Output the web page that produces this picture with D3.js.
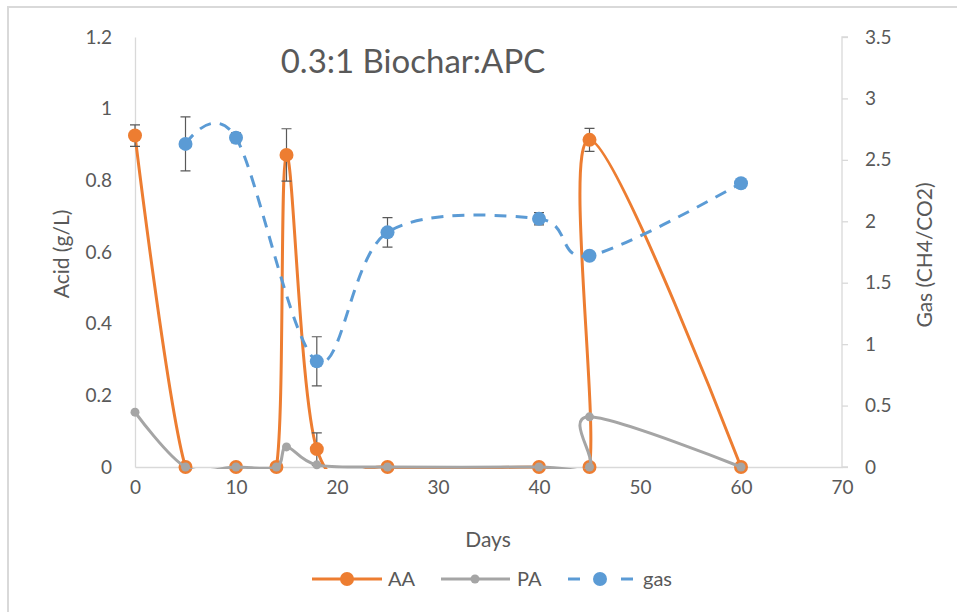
<!DOCTYPE html>
<html><head><meta charset="utf-8">
<script src="https://cdn.jsdelivr.net/npm/d3@7"></script>
<style>body{margin:0;background:#fff}svg{display:block}text{font-family:Lato,"Open Sans",sans-serif;fill:#595959}</style>
</head><body><svg id="c" width="957" height="613"></svg>
<script>
const title = "0.3:1 Biochar:APC";
const aaDays = [0,5,10,14,15,18,25,40,45,45,60];
const aaVals = [0.925,0,0,0,0.871,0.05,0,0,0,0.913,0];
const aaErr  = [0.03,0,0,0,0.073,0.045,0,0,0,0.032,0];
const paDays = [0,5,10,14,15,18,25,40,45,45,60];
const paVals = [0.153,0,0,0,0.056,0.006,0,0,0,0.14,0];
const gasDays = [5,10,18,25,40,45,60];
const gasVals = [2.63,2.68,0.86,1.91,2.02,1.72,2.31];
const gasErr  = [0.22,0.04,0.2,0.12,0.05,0,0];
const xTicks = [0,10,20,30,40,50,60,70];
const yLTicks = [0,0.2,0.4,0.6,0.8,1,1.2];
const yRTicks = [0,0.5,1,1.5,2,2.5,3,3.5];

const svg = d3.select("#c");
const x = d3.scaleLinear().domain([0,70]).range([135,842]);
const yL = d3.scaleLinear().domain([0,1.2]).range([467,37]);
const yR = d3.scaleLinear().domain([0,3.5]).range([467,37]);
const C = {aa:"#ED7D31", pa:"#A5A5A5", gas:"#5B9BD5", axis:"#D9D9D9", err:"#595959"};

svg.append("defs").append("clipPath").attr("id","plot")
  .append("rect").attr("x",135).attr("y",30).attr("width",707).attr("height",439);

// outer border (top & left visible)
svg.append("path").attr("d","M8,612V7H957").attr("fill","none").attr("stroke",C.axis).attr("stroke-width",2);

const fmt = d=>String(+d.toFixed(1));
const gx = svg.append("g").attr("transform","translate(0,467)")
  .call(d3.axisBottom(x).tickValues(xTicks).tickSize(0).tickPadding(14).tickFormat(fmt));
const gl = svg.append("g").attr("transform","translate(135,0)")
  .call(d3.axisLeft(yL).tickValues(yLTicks).tickSize(0).tickPadding(23).tickFormat(fmt));
const gr = svg.append("g").attr("transform","translate(842,0)")
  .call(d3.axisRight(yR).tickValues(yRTicks).tickSize(6).tickPadding(17).tickFormat(fmt));
[gx,gl,gr].forEach(g=>{
  g.select(".domain").attr("stroke",C.axis).attr("stroke-width",1.3);
  g.selectAll(".tick line").attr("stroke",C.axis).attr("stroke-width",1.3);
  g.selectAll(".tick text").attr("font-size",19).attr("fill","#595959").attr("font-family","Lato");
});
gr.select(".domain").attr("d","M6,467H0V37H6");

svg.append("text").attr("x",413).attr("y",73).attr("text-anchor","middle").attr("font-size",33).text(title);
svg.append("text").attr("x",488).attr("y",547).attr("text-anchor","middle").attr("font-size",21).text("Days");
svg.append("text").attr("transform","translate(69,254) rotate(-90)").attr("text-anchor","middle").attr("font-size",21).text("Acid (g/L)");
svg.append("text").attr("transform","translate(932,255) rotate(-90)").attr("text-anchor","middle").attr("font-size",21).text("Gas (CH4/CO2)");

const curve = d3.curveCardinal.tension(0);
function errBars(days, vals, errs, ys){
  const g = svg.append("g").attr("stroke",C.err).attr("stroke-width",1.2).attr("fill","none");
  days.forEach((d,i)=>{
    if(!errs[i]) return;
    const cx = x(d), t = ys(vals[i]+errs[i]), b = ys(Math.max(0,vals[i]-errs[i]));
    g.append("path").attr("d",`M${cx},${t}V${b}M${cx-5},${t}H${cx+5}M${cx-5},${b}H${cx+5}`);
  });
}
function series(days, vals, ys, color, r, dash, errs){
  const pts = days.map((d,i)=>[x(d),ys(vals[i])]);
  const p = svg.append("path").attr("clip-path","url(#plot)")
    .attr("d",d3.line().curve(curve)(pts)).attr("fill","none").attr("stroke",color).attr("stroke-width",3);
  if(dash) p.attr("stroke-dasharray",dash);
  if(errs) errBars(days, vals, errs, ys);
  svg.append("g").selectAll("circle").data(pts).join("circle")
    .attr("cx",d=>d[0]).attr("cy",d=>d[1]).attr("r",r).attr("fill",color);
}
series(aaDays, aaVals, yL, C.aa, 7, null, aaErr);
series(paDays, paVals, yL, C.pa, 4.5, null, null);
series(gasDays, gasVals, yR, C.gas, 7, "12,9", gasErr);

// legend
const ly = 579;
const leg = svg.append("g");
leg.append("line").attr("x1",312).attr("x2",382).attr("y1",ly).attr("y2",ly).attr("stroke",C.aa).attr("stroke-width",3);
leg.append("circle").attr("cx",347).attr("cy",ly).attr("r",7).attr("fill",C.aa);
leg.append("text").attr("x",388).attr("y",ly+7).attr("font-size",20).text("AA");
leg.append("line").attr("x1",441).attr("x2",510).attr("y1",ly).attr("y2",ly).attr("stroke",C.pa).attr("stroke-width",3);
leg.append("circle").attr("cx",475).attr("cy",ly).attr("r",4.5).attr("fill",C.pa);
leg.append("text").attr("x",517).attr("y",ly+7).attr("font-size",20).text("PA");
leg.append("line").attr("x1",568).attr("x2",580).attr("y1",ly).attr("y2",ly).attr("stroke",C.gas).attr("stroke-width",3);
leg.append("line").attr("x1",621).attr("x2",633).attr("y1",ly).attr("y2",ly).attr("stroke",C.gas).attr("stroke-width",3);
leg.append("circle").attr("cx",600).attr("cy",ly).attr("r",7).attr("fill",C.gas);
leg.append("text").attr("x",643).attr("y",ly+7).attr("font-size",20).text("gas");
</script></body></html>
